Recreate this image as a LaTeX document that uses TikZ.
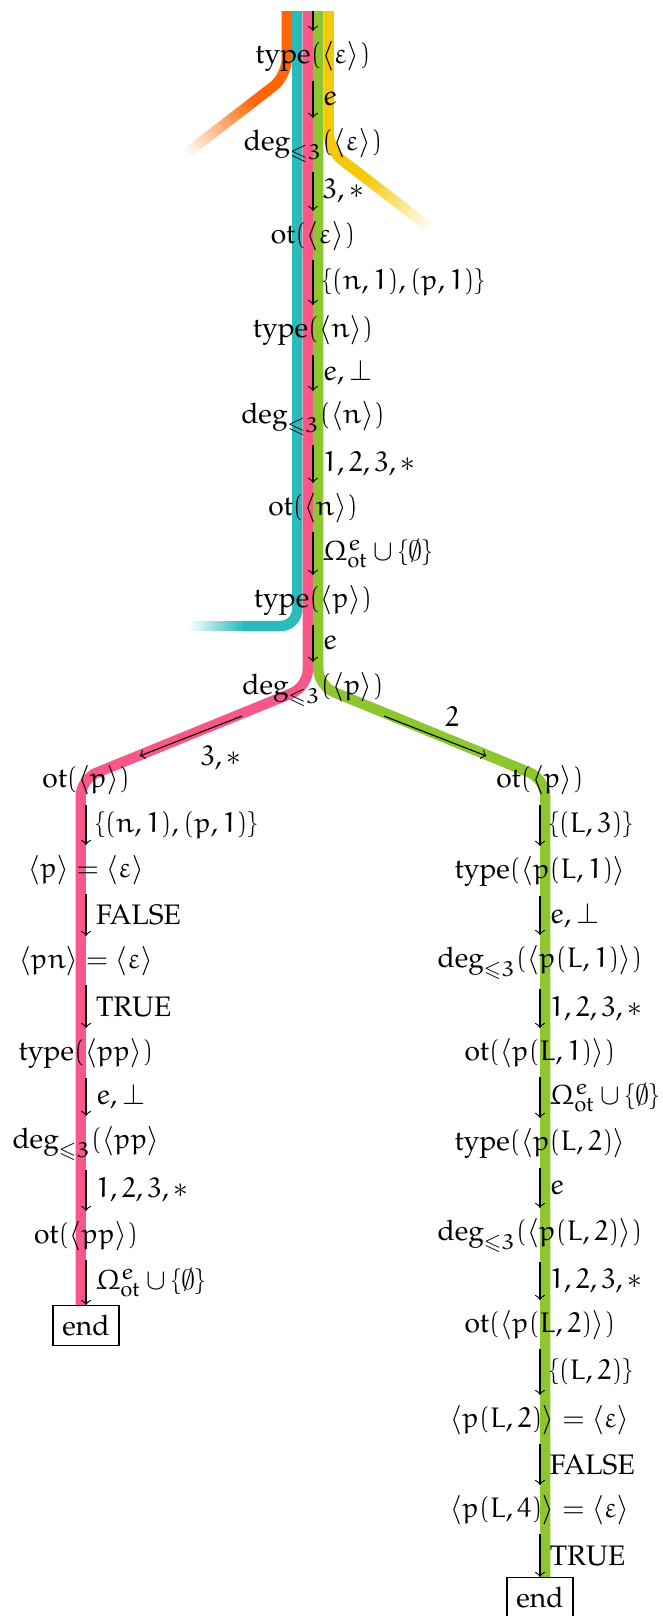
\documentclass[tikz,border=0pt]{standalone}
\usepackage{amsmath,amssymb}
\usepackage[T1]{fontenc}
\IfFileExists{mathpazo.sty}{\usepackage{mathpazo}}{}
\IfFileExists{euler.sty}{\usepackage{euler}}{}
\DeclareSymbolFont{cmsyms}{OMS}{cmsy}{m}{n}
\DeclareMathSymbol{\nullset}{\mathord}{cmsyms}{"3B}
\usetikzlibrary{calc}
\definecolor{tOrange}{RGB}{255,102,0}
\definecolor{tTeal}{RGB}{43,187,187}
\definecolor{tPink}{RGB}{247,88,136}
\definecolor{tGreen}{RGB}{141,198,46}
\definecolor{tYellow}{RGB}{245,200,10}
\tikzset{
  st/.style={anchor=base},
  link/.style={->, auto},
  endbox/.style={draw, anchor=north},
  band/.style={line width=3.7pt, rounded corners=6pt},
}
% a band that runs out into white
\newcommand{\fadetail}[3]{%
  \foreach \i in {0,...,24}{%
    \pgfmathsetmacro\fa{\i/25}%
    \pgfmathsetmacro\fb{min(1,(\i+1.3)/25)}%
    \pgfmathsetmacro\fc{100-4*\i}%
    \draw[band, #1!\fc!white] ($(#2)!\fa!(#3)$) -- ($(#2)!\fb!(#3)$);
  }%
}

\begin{document}
\begin{tikzpicture}
  \useasboundingbox (0,0) rectangle (8.249,-20.135);
  % runs through the tree
  \draw[band, tOrange] (3.573,-0.137) -- (3.573,-0.947) -- (3.200,-1.235);
  \fadetail{tOrange}{3.200,-1.235}{2.330,-1.906}
  \draw[band, tYellow] (4.096,-0.137) -- (4.096,-1.869) -- (4.535,-2.205);
  \fadetail{tYellow}{4.535,-2.205}{5.358,-2.841}
  \draw[band, tTeal] (3.704,-0.137) -- (3.704,-7.800) -- (3.053,-7.800);
  \fadetail{tTeal}{3.053,-7.800}{2.367,-7.800}
  \draw[band, tPink] (3.835,-0.137) -- (3.835,-8.555) -- (1.006,-9.709) -- (1.006,-16.260);
  \draw[band, tGreen] (3.965,-0.137) -- (3.965,-8.543) -- (6.794,-9.706) -- (6.794,-19.649);
  % main column
  \coordinate (top) at (3.90,-0.137);
  \node[st] (m1) at (3.90,-0.785) {$\mathrm{type}(\langle\varepsilon\rangle)$};
  \node[st] (m2) at (3.90,-1.869) {$\deg_{\leqslant 3}(\langle\varepsilon\rangle)$};
  \node[st] (m3) at (3.90,-3.028) {$\mathrm{ot}(\langle\varepsilon\rangle)$};
  \node[st] (m4) at (3.90,-4.199) {$\mathrm{type}(\langle n\rangle)$};
  \node[st] (m5) at (3.90,-5.271) {$\deg_{\leqslant 3}(\langle n\rangle)$};
  \node[st] (m6) at (3.90,-6.417) {$\mathrm{ot}(\langle n\rangle)$};
  \node[st] (m7) at (3.90,-7.563) {$\mathrm{type}(\langle p\rangle)$};
  \node[st] (m8) at (3.90,-8.647) {$\deg_{\leqslant 3}(\langle p\rangle)$};
  % left branch
  \node[st] (l1) at (1.072,-9.818) {$\mathrm{ot}(\langle p\rangle)$};
  \node[st] (l2) at (1.072,-10.927) {$\langle p\rangle = \langle\varepsilon\rangle$};
  \node[st] (l3) at (1.072,-12.061) {$\langle pn\rangle = \langle\varepsilon\rangle$};
  \node[st] (l4) at (1.072,-13.208) {$\mathrm{type}(\langle pp\rangle)$};
  \node[st] (l5) at (1.072,-14.304) {$\deg_{\leqslant 3}(\langle pp\rangle$};
  \node[st] (l6) at (1.072,-15.488) {$\mathrm{ot}(\langle pp\rangle)$};
  \node[endbox] (l7) at (1.072,-16.260) {end};
  % right branch
  \node[st] (r1) at (6.728,-9.818) {$\mathrm{ot}(\langle p\rangle)$};
  \node[st] (r2) at (6.728,-10.940) {$\mathrm{type}(\langle p(L,1)\rangle$};
  \node[st] (r3) at (6.728,-12.049) {$\deg_{\leqslant 3}(\langle p(L,1)\rangle)$};
  \node[st] (r4) at (6.728,-13.208) {$\mathrm{ot}(\langle p(L,1)\rangle)$};
  \node[st] (r5) at (6.728,-14.329) {$\mathrm{type}(\langle p(L,2)\rangle$};
  \node[st] (r6) at (6.728,-15.450) {$\deg_{\leqslant 3}(\langle p(L,2)\rangle)$};
  \node[st] (r7) at (6.728,-16.597) {$\mathrm{ot}(\langle p(L,2)\rangle)$};
  \node[st] (r8) at (6.728,-17.780) {$\langle p(L,2)\rangle = \langle\varepsilon\rangle$};
  \node[st] (r9) at (6.728,-18.902) {$\langle p(L,4)\rangle = \langle\varepsilon\rangle$};
  \node[endbox] (r10) at (6.728,-19.649) {end};
  % transitions
  \draw[link] (top) -- (m1);
  \draw[link] (m1) -- node {$e$} (m2);
  \draw[link] (m2) -- node {$3,\ast$} (m3);
  \draw[link] (m3) -- node {$\{(n,1),(p,1)\}$} (m4);
  \draw[link] (m4) -- node {$e,\bot$} (m5);
  \draw[link] (m5) -- node {$1,2,3,\ast$} (m6);
  \draw[link] (m6) -- node {$\Omega^{e}_{\mathrm{ot}}\cup\{\nullset\}$} (m7);
  \draw[link] (m7) -- node {$e$} (m8);
  \draw[link] ([xshift=0.12cm]m8.south west) -- node {$3,\ast$} (l1.north east);
  \draw[link] ([xshift=-0.12cm]m8.south east) -- node {$2$} (r1.north west);
  \draw[link] (l1) -- node {$\{(n,1),(p,1)\}$} (l2);
  \draw[link] (l2) -- node {FALSE} (l3);
  \draw[link] (l3) -- node {TRUE} (l4);
  \draw[link] (l4) -- node {$e,\bot$} (l5);
  \draw[link] (l5) -- node {$1,2,3,\ast$} (l6);
  \draw[link] (l6) -- node {$\Omega^{e}_{\mathrm{ot}}\cup\{\nullset\}$} (l7);
  \draw[link] (r1) -- node {$\{(L,3)\}$} (r2);
  \draw[link] (r2) -- node {$e,\bot$} (r3);
  \draw[link] (r3) -- node {$1,2,3,\ast$} (r4);
  \draw[link] (r4) -- node {$\Omega^{e}_{\mathrm{ot}}\cup\{\nullset\}$} (r5);
  \draw[link] (r5) -- node {$e$} (r6);
  \draw[link] (r6) -- node {$1,2,3,\ast$} (r7);
  \draw[link] (r7) -- node {$\{(L,2)\}$} (r8);
  \draw[link] (r8) -- node {FALSE} (r9);
  \draw[link] (r9) -- node {TRUE} (r10);
\end{tikzpicture}
\end{document}
